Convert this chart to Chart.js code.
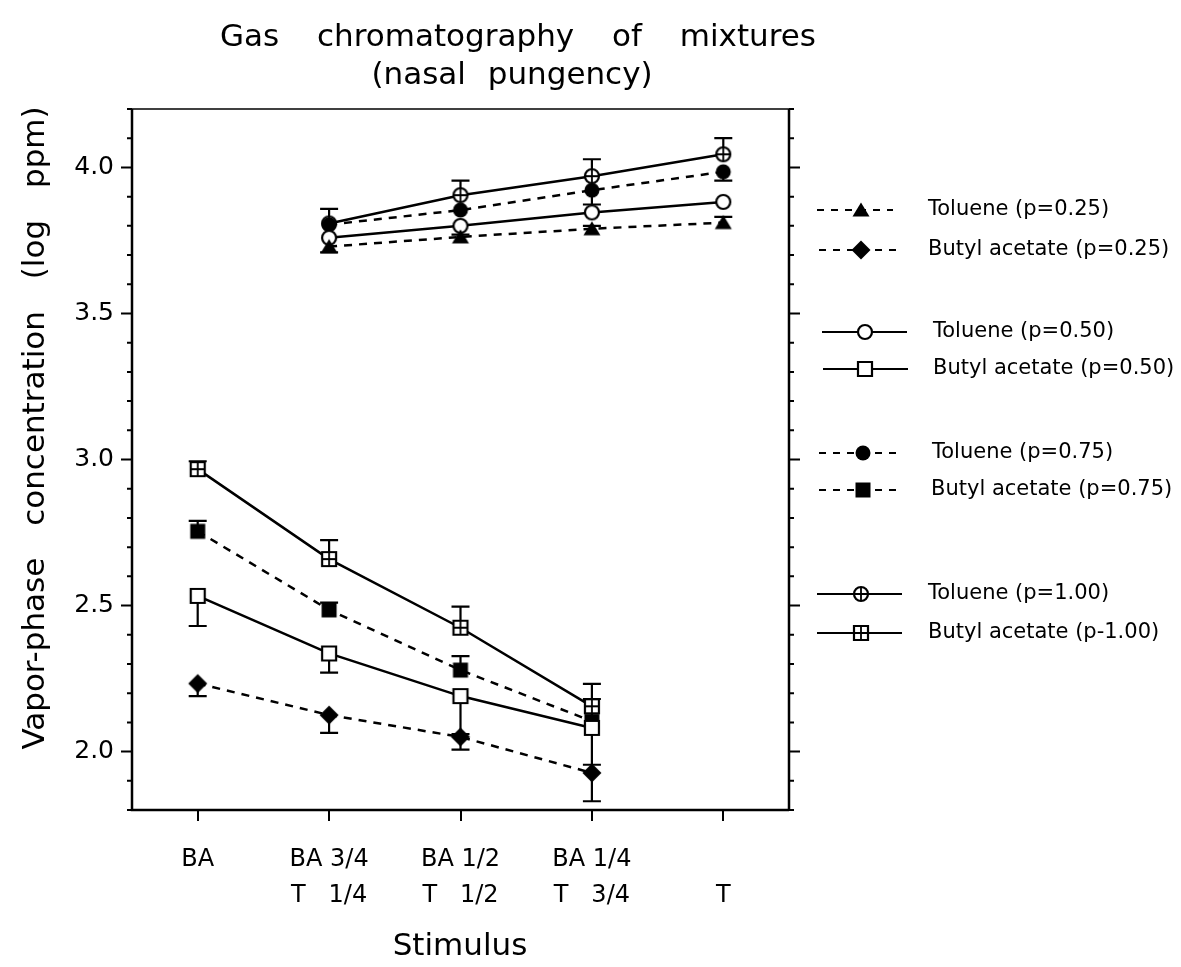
<!DOCTYPE html>
<html>
<head>
<meta charset="utf-8">
<script src="https://cdn.jsdelivr.net/npm/chart.js@4.4.1/dist/chart.umd.min.js"></script>
<style>
  html, body { margin: 0; padding: 0; background: #fff; }
  #wrap { width: 1181px; height: 967px; }
</style>
</head>
<body>
<div id="wrap"><canvas id="myChart"></canvas></div>
<script>
const stimuli = [['BA'], ['BA 3/4', 'T   1/4'], ['BA 1/2', 'T   1/2'], ['BA 1/4', 'T   3/4'], ['', 'T']];
const yMajorTicks = [2.0, 2.5, 3.0, 3.5, 4.0];

const toluene25 = [null, 3.729, 3.762, 3.790, 3.811];
const toluene50 = [null, 3.759, 3.800, 3.846, 3.882];
const toluene75 = [null, 3.804, 3.854, 3.922, 3.985];
const toluene100 = [null, 3.808, 3.905, 3.970, 4.045];
const butyl25 = [2.233, 2.125, 2.050, 1.927, null];
const butyl50 = [2.533, 2.336, 2.190, 2.081, null];
const butyl75 = [2.754, 2.485, 2.279, 2.104, null];
const butyl100 = [2.967, 2.659, 2.424, 2.155, null];

// error bars: + drawn upward, - drawn downward
const toluene25Err = [null, -0.02, 0.008, 0.010, 0.020];
const toluene50Err = [null, 0, 0, 0, 0];
const toluene75Err = [null, 0, 0, -0.049, -0.030];
const toluene100Err = [null, 0.050, 0.050, 0.058, 0.055];
const butyl25Err = [-0.043, -0.061, -0.043, -0.097, null];
const butyl50Err = [-0.103, -0.066, -0.130, -0.126, null];
const butyl75Err = [0.036, 0.025, 0.048, 0.076, null];
const butyl100Err = [0.027, 0.065, 0.072, 0.077, null];

const seriesLabels = [
  'Toluene (p=0.25)', 'Butyl acetate (p=0.25)',
  'Toluene (p=0.50)', 'Butyl acetate (p=0.50)',
  'Toluene (p=0.75)', 'Butyl acetate (p=0.75)',
  'Toluene (p=1.00)', 'Butyl acetate (p-1.00)'
];

function makeMarker(kind) {
  const c = document.createElement('canvas');
  c.width = 24; c.height = 24;
  const g = c.getContext('2d');
  g.translate(12, 12);
  g.lineWidth = 2.2;
  g.strokeStyle = '#000';
  g.fillStyle = '#000';
  g.beginPath();
  if (kind === 'triangle') {
    g.moveTo(0, -7.5); g.lineTo(8.5, 6.5); g.lineTo(-8.5, 6.5); g.closePath(); g.fill();
  } else if (kind === 'diamond') {
    g.moveTo(0, -9.5); g.lineTo(9.5, 0); g.lineTo(0, 9.5); g.lineTo(-9.5, 0); g.closePath(); g.fill();
  } else if (kind === 'dot') {
    g.arc(0, 0, 7.5, 0, Math.PI * 2); g.fill();
  } else if (kind === 'block') {
    g.rect(-7.5, -7.5, 15, 15); g.fill();
  } else {
    if (kind === 'circle' || kind === 'circlePlus') g.arc(0, 0, 7, 0, Math.PI * 2);
    else g.rect(-7, -7, 14, 14);
    g.fillStyle = '#fff'; g.fill(); g.stroke();
    if (kind === 'circlePlus' || kind === 'squarePlus') {
      g.beginPath();
      g.moveTo(-7, 0); g.lineTo(7, 0); g.moveTo(0, -7); g.lineTo(0, 7);
      g.lineWidth = 1.8; g.stroke();
    }
  }
  return c;
}

const markers = {
  triangle: makeMarker('triangle'), diamond: makeMarker('diamond'),
  circle: makeMarker('circle'), square: makeMarker('square'),
  dot: makeMarker('dot'), block: makeMarker('block'),
  circlePlus: makeMarker('circlePlus'), squarePlus: makeMarker('squarePlus')
};

const series = [
  { label: seriesLabels[0], data: toluene25, err: toluene25Err, marker: markers.triangle, dashed: true },
  { label: seriesLabels[1], data: butyl25, err: butyl25Err, marker: markers.diamond, dashed: true },
  { label: seriesLabels[2], data: toluene50, err: toluene50Err, marker: markers.circle, dashed: false },
  { label: seriesLabels[3], data: butyl50, err: butyl50Err, marker: markers.square, dashed: false },
  { label: seriesLabels[4], data: toluene75, err: toluene75Err, marker: markers.dot, dashed: true },
  { label: seriesLabels[5], data: butyl75, err: butyl75Err, marker: markers.block, dashed: true },
  { label: seriesLabels[6], data: toluene100, err: toluene100Err, marker: markers.circlePlus, dashed: false },
  { label: seriesLabels[7], data: butyl100, err: butyl100Err, marker: markers.squarePlus, dashed: false }
];

function spacedText(ctx, text, x, y, gap) {
  ctx.wordSpacing = gap + 'px';
  ctx.fillText(text, x, y);
  ctx.wordSpacing = '0px';
}

const decorations = {
  id: 'decorations',
  beforeDatasetsDraw(chart) {
    const { ctx, scales: { x, y } } = chart;
    ctx.save();
    ctx.strokeStyle = '#000';
    ctx.lineWidth = 2.2;
    series.forEach(s => {
      s.data.forEach((v, i) => {
        const e = s.err[i];
        if (v === null || !e) return;
        const px = x.getPixelForValue(i);
        const p0 = y.getPixelForValue(v);
        const p1 = y.getPixelForValue(v + e);
        ctx.beginPath();
        ctx.moveTo(px, p0); ctx.lineTo(px, p1);
        ctx.moveTo(px - 9, p1); ctx.lineTo(px + 9, p1);
        ctx.stroke();
      });
    });
    ctx.restore();
  },
  afterDraw(chart) {
    const { ctx, chartArea: a, scales: { y } } = chart;
    ctx.save();
    ctx.strokeStyle = '#000';
    ctx.fillStyle = '#000';

    // frame
    ctx.lineWidth = 2.5;
    ctx.beginPath();
    ctx.moveTo(a.left, a.top); ctx.lineTo(a.left, a.bottom); ctx.lineTo(a.right, a.bottom);
    ctx.moveTo(a.right, a.top); ctx.lineTo(a.right, a.bottom);
    ctx.stroke();
    ctx.lineWidth = 1.5;
    ctx.beginPath();
    ctx.moveTo(a.left, a.top); ctx.lineTo(a.right, a.top);
    ctx.stroke();

    // y ticks on both sides, minor every 0.1
    ctx.lineWidth = 2;
    ctx.beginPath();
    for (let k = 18; k <= 42; k++) {
      const py = y.getPixelForValue(k / 10);
      const len = k % 5 === 0 ? 11 : 5;
      ctx.moveTo(a.left - len, py); ctx.lineTo(a.left, py);
      ctx.moveTo(a.right, py); ctx.lineTo(a.right + len, py);
    }
    ctx.stroke();

    // legend
    const rows = [
      { y: 210, x1: 817, x2: 893, mx: 861, tx: 928 },
      { y: 250, x1: 819, x2: 896, mx: 861, tx: 928 },
      { y: 332, x1: 822, x2: 907, mx: 865, tx: 933 },
      { y: 369, x1: 823, x2: 908, mx: 865, tx: 933 },
      { y: 453, x1: 819, x2: 896, mx: 863, tx: 932 },
      { y: 490, x1: 819, x2: 896, mx: 863, tx: 931 },
      { y: 594, x1: 817, x2: 902, mx: 861, tx: 928 },
      { y: 633, x1: 817, x2: 902, mx: 861, tx: 928 }
    ];
    ctx.font = '21px "DejaVu Sans"';
    ctx.textBaseline = 'middle';
    ctx.textAlign = 'left';
    series.forEach((s, i) => {
      const r = rows[i];
      ctx.lineWidth = 2;
      ctx.setLineDash(s.dashed ? [7, 7] : []);
      ctx.beginPath();
      ctx.moveTo(r.x1, r.y); ctx.lineTo(r.x2, r.y);
      ctx.stroke();
      ctx.setLineDash([]);
      ctx.drawImage(s.marker, r.mx - 12, r.y - 12);
      ctx.fillText(s.label, r.tx, r.y);
    });

    // titles
    ctx.textAlign = 'center';
    ctx.textBaseline = 'alphabetic';
    ctx.font = '31px "DejaVu Sans"';
    spacedText(ctx, 'Gas chromatography of mixtures', 518, 46, 28);
    spacedText(ctx, '(nasal pungency)', 512, 84, 12);
    ctx.fillText('Stimulus', 460, 955);
    ctx.translate(44, 428);
    ctx.rotate(-Math.PI / 2);
    spacedText(ctx, 'Vapor-phase concentration (log ppm)', 0, 0, 22);
    ctx.restore();
  }
};

new Chart(document.getElementById('myChart'), {
  type: 'line',
  data: {
    labels: stimuli,
    datasets: series.map(s => ({
      label: s.label,
      data: s.data,
      borderColor: '#000',
      backgroundColor: '#000',
      borderWidth: 2.5,
      borderDash: s.dashed ? [8, 7] : [],
      pointStyle: s.marker,
      pointRadius: 7,
      pointHoverRadius: 7,
      tension: 0
    }))
  },
  options: {
    responsive: true,
    maintainAspectRatio: false,
    animation: false,
    layout: { padding: { left: 0, top: 109, right: 392, bottom: 0 } },
    plugins: {
      legend: { display: false },
      title: { display: false },
      tooltip: { enabled: false }
    },
    scales: {
      x: {
        type: 'category',
        offset: true,
        afterFit: scale => { scale.height = 157; },
        border: { display: false },
        grid: { offset: false, drawOnChartArea: false, drawTicks: true, tickLength: 11, lineWidth: 2, color: '#000' },
        ticks: {
          color: '#000',
          padding: 21,
          maxRotation: 0,
          autoSkip: false,
          font: { family: '"DejaVu Sans"', size: 24, lineHeight: 1.5 }
        }
      },
      y: {
        min: 1.8,
        max: 4.2,
        afterFit: scale => { scale.width = 132; },
        afterBuildTicks: scale => { scale.ticks = yMajorTicks.map(v => ({ value: v })); },
        border: { display: false },
        grid: { display: false },
        ticks: {
          color: '#000',
          padding: 10,
          font: { family: '"DejaVu Sans"', size: 25 },
          callback: v => Number(v).toFixed(1)
        }
      }
    }
  },
  plugins: [decorations]
});
</script>
</body>
</html>
